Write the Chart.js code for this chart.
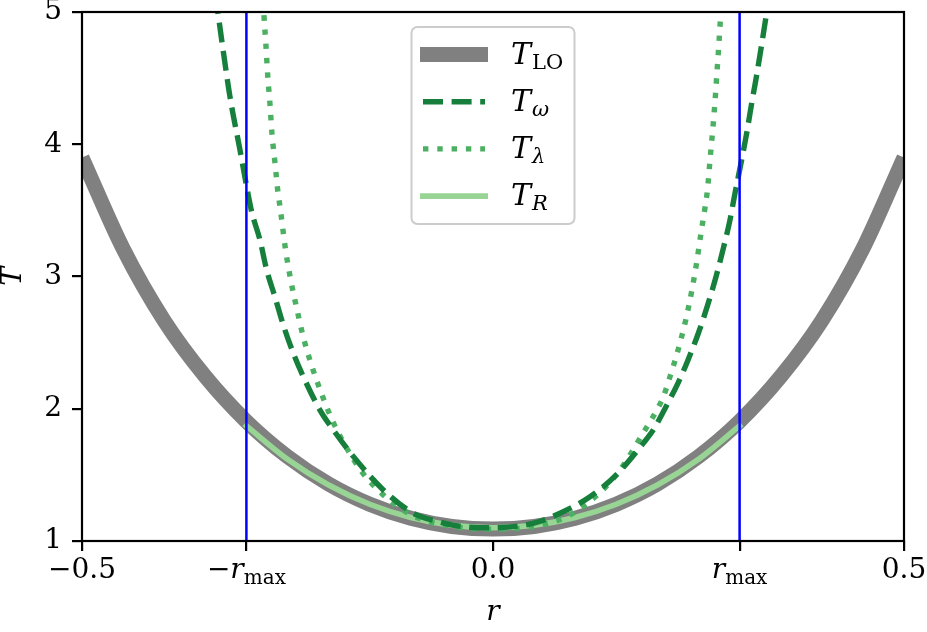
<!DOCTYPE html>
<html><head><meta charset="utf-8">
<script src="https://cdn.jsdelivr.net/npm/chart.js@4"></script>
<style>html,body{margin:0;padding:0;background:#fff}canvas{display:block}</style>
</head><body>
<canvas id="c" width="927" height="632"></canvas>
<script>
// ---- data ----
const rGrid = [-0.5,-0.45,-0.4,-0.35,-0.3,-0.25,-0.2,-0.15,-0.1,-0.05,0,0.05,0.1,0.15,0.2,0.25,0.3,0.35,0.4,0.45,0.5];
const tLO   = [3.90,3.21,2.665,2.243,1.905,1.638,1.431,1.278,1.172,1.110,1.090,1.110,1.172,1.278,1.431,1.638,1.905,2.243,2.665,3.21,3.90];

const rR = [-0.3,-0.25,-0.2,-0.15,-0.1,-0.05,0,0.05,0.1,0.15,0.2,0.25,0.3];
const tR = [1.870,1.618,1.423,1.278,1.178,1.119,1.100,1.119,1.178,1.278,1.423,1.618,1.870];

const rW = [-0.342,-0.3342,-0.326,-0.32,-0.3078,-0.2997,-0.2936,-0.2835,-0.2753,-0.2652,-0.2551,-0.2429,-0.2307,-0.2105,-0.1943,-0.17,-0.1334,-0.097,-0.0665,-0.0365,0,0.0487,0.0815,0.118,0.15,0.1829,0.195,0.2072,0.2255,0.2364,0.2498,0.2612,0.2713,0.2802,0.2883,0.2944,0.3025,0.3086,0.3147,0.3208,0.333,0.34];
const tW = [5.35,4.977,4.61,4.36,3.956,3.68,3.49,3.276,3.049,2.845,2.633,2.419,2.242,1.99,1.84,1.64,1.386,1.21,1.146,1.108,1.10,1.134,1.21,1.335,1.50,1.74,1.84,1.978,2.20,2.356,2.571,2.785,2.998,3.213,3.427,3.63,3.881,4.083,4.31,4.524,5.0,5.3];

const rL = [-0.2815,-0.2786,-0.2762,-0.2741,-0.2713,-0.2689,-0.2652,-0.2616,-0.2591,-0.2522,-0.2461,-0.2388,-0.2307,-0.2206,-0.2065,-0.1946,-0.17,-0.15,-0.1,-0.05,0,0.05,0.1,0.15,0.185,0.2011,0.2072,0.2153,0.2255,0.2344,0.2417,0.2478,0.253,0.2579,0.261,0.264,0.2672,0.2701,0.2725,0.2749,0.277,0.2795];
const tL = [5.3,4.97,4.745,4.524,4.302,4.08,3.858,3.637,3.528,3.195,2.974,2.76,2.54,2.326,2.08,1.90,1.62,1.45,1.20,1.11,1.09,1.11,1.22,1.50,1.84,2.01,2.09,2.242,2.452,2.669,2.888,3.107,3.327,3.52,3.66,3.881,4.102,4.325,4.546,4.768,4.985,5.3];

const rMaxLines = [-0.3, 0.3];
const tSpan = [1, 5];
const xTickValues = [-0.5, -0.3, 0, 0.3, 0.5];
const xTickLabels = ['\u22120.5', '\u2212r_max', '0.0', 'r_max', '0.5'];
const yTickValues = [1, 2, 3, 4, 5];
const yTickLabels = ['1', '2', '3', '4', '5'];
const legendMain = ['T', 'T', 'T', 'T'];
const legendSub = ['LO', '\u03c9', '\u03bb', 'R'];
const legendSubItalic = [false, true, true, true];

// ---- styling ----
const SERIF = "'DejaVu Serif', serif";
const FS = 28;
const C_LO = '#808080', C_W = '#157f3b', C_L = '#4bb062', C_R = '#98d594', C_BLUE = '#0000ff';
const W_LO = 15, W_W = 5.4, W_L = 5.4, W_R = 5.6;
const DASH_W = [20, 8.6], DASH_L = [5.4, 8.9];

const pts = (xs, ys) => xs.map((x, i) => ({x: x, y: ys[i]}));
const lineBase = {showLine: true, pointRadius: 0, pointHoverRadius: 0, fill: false, cubicInterpolationMode: 'monotone'};

const datasets = [
  Object.assign({label: 'T_LO', data: pts(rGrid, tLO), borderColor: C_LO, backgroundColor: C_LO, borderWidth: W_LO, order: 4}, lineBase),
  Object.assign({label: 'T_R', data: pts(rR, tR), borderColor: C_R, backgroundColor: C_R, borderWidth: W_R, borderCapStyle: 'square', order: 3}, lineBase),
  Object.assign({label: 'T_lambda', data: pts(rL, tL), borderColor: C_L, backgroundColor: C_L, borderWidth: W_L, borderDash: DASH_L, order: 2}, lineBase),
  Object.assign({label: 'T_omega', data: pts(rW, tW), borderColor: C_W, backgroundColor: C_W, borderWidth: W_W, borderDash: DASH_W, order: 1}, lineBase)
];
rMaxLines.forEach((r) => {
  datasets.push(Object.assign({label: 'rmax', data: [{x: r, y: tSpan[0]}, {x: r, y: tSpan[1]}], borderColor: C_BLUE, backgroundColor: C_BLUE, borderWidth: 2.5, order: 0}, lineBase, {cubicInterpolationMode: 'default', tension: 0}));
});

const gridOpts = {display: true, drawOnChartArea: false, drawTicks: true, tickLength: 10, tickWidth: 2.2, tickColor: '#000', color: '#000', lineWidth: 2.2};

const extras = {
  id: 'extras',
  afterDatasetsDraw(chart) {
    const {ctx, chartArea: a} = chart;
    ctx.save();
    ctx.strokeStyle = '#000';
    ctx.lineWidth = 2.2;
    ctx.strokeRect(a.left, a.top, a.right - a.left, a.bottom - a.top);
    ctx.restore();
  },
  afterDraw(chart) {
    const {ctx, chartArea: a} = chart;
    const xs = chart.scales.x;
    ctx.save();
    ctx.fillStyle = '#000';
    // r_max tick labels
    const yMid = a.bottom + 10 + 3 + FS * 1.2 / 2;
    ctx.font = FS + 'px ' + SERIF;
    ctx.textBaseline = 'middle';
    const desc = ctx.measureText('0').actualBoundingBoxDescent;
    const base = yMid + desc;
    ctx.textBaseline = 'alphabetic';
    xTickValues.forEach((v, i) => {
      const lab = xTickLabels[i];
      if (lab.indexOf('_') < 0) return;
      const parts = lab.split('_');
      let main = parts[0], sub = parts[1];
      let minus = '';
      if (main.charAt(0) === '\u2212') { minus = '\u2212'; main = main.slice(1); }
      const fR = FS + 'px ' + SERIF, fI = 'italic ' + FS + 'px ' + SERIF, fS = Math.round(FS * 0.7) + 'px ' + SERIF;
      ctx.font = fR; const wm = minus ? ctx.measureText(minus).width : 0;
      ctx.font = fI; const wr = ctx.measureText(main).width;
      ctx.font = fS; const ws = ctx.measureText(sub).width;
      let x = xs.getPixelForValue(v) - (wm + wr + ws) / 2;
      ctx.textAlign = 'left';
      if (minus) { ctx.font = fR; ctx.fillText(minus, x, base); x += wm; }
      ctx.font = fI; ctx.fillText(main, x, base); x += wr;
      ctx.font = fS; ctx.fillText(sub, x, base + 5.5);
    });
    // legend
    const lw = 163, lh = 197;
    const lx = (a.left + a.right) / 2 - lw / 2, ly = a.top + 15;
    ctx.beginPath();
    if (ctx.roundRect) ctx.roundRect(lx, ly, lw, lh, 6); else ctx.rect(lx, ly, lw, lh);
    ctx.fillStyle = 'rgba(255,255,255,0.8)';
    ctx.fill();
    ctx.strokeStyle = '#cccccc';
    ctx.lineWidth = 2;
    ctx.stroke();
    const styles = [
      {c: C_LO, w: W_LO, d: [], cap: 'square'},
      {c: C_W, w: W_W, d: DASH_W, cap: 'butt'},
      {c: C_L, w: W_L, d: DASH_L, cap: 'butt'},
      {c: C_R, w: W_R, d: [], cap: 'square'}
    ];
    for (let i = 0; i < 4; i++) {
      const cy = ly + 27.5 + i * 47.2;
      const s = styles[i];
      ctx.beginPath();
      ctx.setLineDash(s.d);
      ctx.lineCap = s.cap;
      ctx.strokeStyle = s.c;
      ctx.lineWidth = s.w;
      ctx.moveTo(lx + 11.5 + (s.cap === 'square' ? s.w / 2 - 3 : 0), cy);
      ctx.lineTo(lx + 73.5 - (s.cap === 'square' ? s.w / 2 - 3 : 0), cy);
      ctx.stroke();
      ctx.setLineDash([]);
      ctx.fillStyle = '#000';
      ctx.textAlign = 'left';
      ctx.textBaseline = 'alphabetic';
      const tx = lx + 99.5, tb = cy + 9;
      ctx.font = 'italic 30px ' + SERIF;
      ctx.fillText(legendMain[i], tx, tb);
      const tw = ctx.measureText(legendMain[i]).width;
      ctx.font = (legendSubItalic[i] ? 'italic ' : '') + '21px ' + SERIF;
      ctx.fillText(legendSub[i], tx + tw + 1, tb + 5);
    }
    ctx.restore();
  }
};

Chart.defaults.font.family = SERIF;
Chart.defaults.color = '#000';

new Chart(document.getElementById('c'), {
  type: 'scatter',
  data: {datasets: datasets},
  options: {
    responsive: false,
    animation: false,
    events: [],
    layout: {padding: {top: 12, right: 23, left: 0, bottom: 0}},
    plugins: {legend: {display: false}, tooltip: {enabled: false}, title: {display: false}},
    scales: {
      x: {
        type: 'linear', min: -0.5, max: 0.5,
        afterBuildTicks: (s) => { s.ticks = xTickValues.map((v) => ({value: v})); },
        afterFit: (s) => { s.height = 91; s.paddingLeft = 0; s.paddingRight = 0; },
        ticks: {
          autoSkip: false, maxRotation: 0, minRotation: 0, padding: 3, color: '#000',
          font: {family: SERIF, size: FS},
          callback: (v, i) => { const l = xTickLabels[i]; return (l && l.indexOf('_') < 0) ? l : ''; }
        },
        grid: gridOpts,
        border: {display: false},
        title: {display: true, text: 'r', color: '#000', font: {family: SERIF, size: FS, style: 'italic', lineHeight: 1}, padding: {top: 0, bottom: 5}}
      },
      y: {
        type: 'linear', min: 1, max: 5,
        afterBuildTicks: (s) => { s.ticks = yTickValues.map((v) => ({value: v})); },
        afterFit: (s) => { s.width = 82; s.paddingTop = 0; s.paddingBottom = 0; },
        ticks: {
          padding: 10, color: '#000',
          font: {family: SERIF, size: FS},
          callback: (v, i) => yTickLabels[i]
        },
        grid: gridOpts,
        border: {display: false},
        title: {display: true, text: 'T', color: '#000', font: {family: SERIF, size: FS, style: 'italic', lineHeight: 1}, padding: {top: 0, bottom: 0}}
      }
    }
  },
  plugins: [extras]
});
</script>
</body></html>
